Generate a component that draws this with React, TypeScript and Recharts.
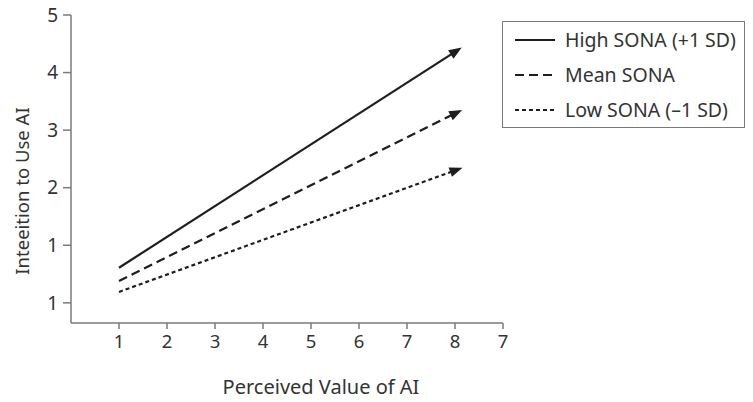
import React from "react";
import { LineChart, Line, XAxis, YAxis } from "recharts";

const xValues = [1, 8];
const highSona = [0.61, 4.36];
const meanSona = [0.38, 3.29];
const lowSona = [0.19, 2.3];

const xTicks = [1, 2, 3, 4, 5, 6, 7, 8, 9];
const xTickLabels = ["1", "2", "3", "4", "5", "6", "7", "8", "7"];
const yTicks = [0, 1, 2, 3, 4, 5];
const yTickLabels = ["1", "1", "2", "3", "4", "5"];

const seriesNames = ["High SONA (+1 SD)", "Mean SONA", "Low SONA (\u20131 SD)"];
const seriesKeys = ["high", "mean", "low"];
const seriesDash = ["0", "9 5", "4 3"];

const data = xValues.map((x, i) => ({
  x,
  high: highSona[i],
  mean: meanSona[i],
  low: lowSona[i],
}));

const FONT = "'Noto Sans', sans-serif";
const INK = "#1e1e1e";
const AXIS = "#7a7a7a";
const TEXT = "#333";

const ArrowDot = (props: any) => {
  const { cx, cy, index, points } = props;
  if (!points || index !== points.length - 1 || cx == null) return <g key={`d-${index}`} />;
  const prev = points[index - 1];
  const ang = Math.atan2(cy - prev.y, cx - prev.x);
  const tip = 8, back = 5, half = 5;
  const c = Math.cos(ang), s = Math.sin(ang);
  const p1 = [cx + tip * c, cy + tip * s];
  const p2 = [cx - back * c - half * s, cy - back * s + half * c];
  const p3 = [cx - back * c + half * s, cy - back * s - half * c];
  return (
    <polygon
      key={`d-${index}`}
      points={`${p1[0]},${p1[1]} ${p2[0]},${p2[1]} ${p3[0]},${p3[1]}`}
      fill={INK}
      stroke="none"
    />
  );
};

const LegendBox = () => (
  <div
    style={{
      position: "absolute",
      left: 502,
      top: 21,
      border: `1.5px solid ${AXIS}`,
      width: 243,
      height: 107,
      boxSizing: "border-box",
      paddingTop: 0,
      fontFamily: FONT,
      background: "#fff",
    }}
  >
    {seriesNames.map((name, i) => (
      <div key={name} style={{ display: "flex", alignItems: "center", height: 35 }}>
        <svg width={40} height={10} style={{ marginLeft: 12 }}>
          <line x1={0} y1={5} x2={40} y2={5} stroke={INK} strokeWidth={2.2} strokeDasharray={seriesDash[i]} />
        </svg>
        <span style={{ fontSize: 19.5, color: TEXT, marginLeft: 10, whiteSpace: "nowrap" }}>{name}</span>
      </div>
    ))}
  </div>
);

const YLabel = (props: any) => {
  const vb = props.viewBox || { x: 0, y: 15, width: 71, height: 308 };
  const x = vb.x + 21;
  const y = vb.y + vb.height / 2 + 22;
  return (
    <text x={x} y={y} transform={`rotate(-90 ${x} ${y})`} textAnchor="middle" dominantBaseline="central" fill={TEXT} fontSize={18.5} fontFamily={FONT}>
      Inteeition to Use AI
    </text>
  );
};

const XLabel = (props: any) => {
  const vb = props.viewBox || { x: 71, y: 323, width: 432, height: 79 };
  const x = vb.x + vb.width / 2 + 34;
  const y = vb.y + 63;
  return (
    <text x={x} y={y} textAnchor="middle" dominantBaseline="central" fill={TEXT} fontSize={20} fontFamily={FONT}>
      Perceived Value of AI
    </text>
  );
};

export default function App() {
  return (
    <div style={{ position: "absolute", left: 0, top: 0, width: 753, height: 402, background: "#fff" }}>
      <LineChart width={753} height={402} data={data} margin={{ top: 15, right: 250, bottom: 0, left: 0 }}>
        <XAxis
          dataKey="x"
          type="number"
          domain={[0, 9]}
          ticks={xTicks}
          tickFormatter={(v: number) => xTickLabels[xTicks.indexOf(v)]}
          height={79}
          stroke={AXIS}
          strokeWidth={1.5}
          tickSize={6}
          tick={{ fill: TEXT, fontSize: 18.5, fontFamily: FONT }}
          tickMargin={6}
          label={<XLabel />}
        />
        <YAxis
          type="number"
          domain={[-0.35, 5]}
          ticks={yTicks}
          tickFormatter={(v: number) => yTickLabels[yTicks.indexOf(v)]}
          width={71}
          stroke={AXIS}
          strokeWidth={1.5}
          tickSize={8}
          tick={{ fill: TEXT, fontSize: 19, fontFamily: FONT }}
          tickMargin={5}
          allowDataOverflow
          label={<YLabel />}
        />
        {seriesKeys.map((k, i) => (
          <Line
            key={k}
            dataKey={k}
            name={seriesNames[i]}
            type="linear"
            stroke={INK}
            strokeWidth={2.2}
            strokeDasharray={seriesDash[i]}
            dot={ArrowDot}
            activeDot={false}
            isAnimationActive={false}
          />
        ))}
      </LineChart>
      <LegendBox />
    </div>
  );
}
